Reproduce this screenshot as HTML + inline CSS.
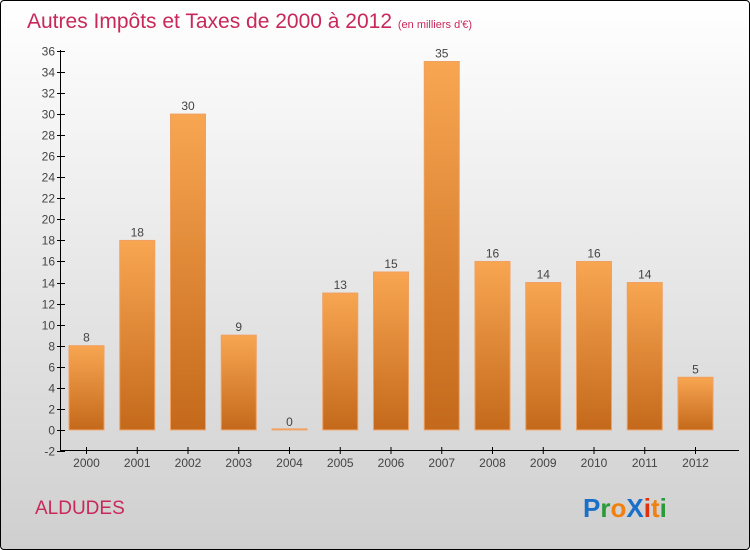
<!DOCTYPE html>
<html><head><meta charset="utf-8"><style>
body{margin:0;}
#wrap{position:relative;width:748px;height:548px;border:1px solid #000;border-radius:4px;background:linear-gradient(#ffffff,#cfcfcf);overflow:hidden;font-family:"Liberation Sans",sans-serif;}
</style></head><body>
<div id="wrap">
<svg id="svg" width="748" height="548" xmlns="http://www.w3.org/2000/svg">
<defs><linearGradient id="bg" x1="0" y1="0" x2="0" y2="1"><stop offset="0" stop-color="#f8a652"/><stop offset="1" stop-color="#c4691b"/></linearGradient></defs>
<text x="26" y="27" font-size="21" fill="#c8285a">Autres Impôts et Taxes de 2000 à 2012 <tspan font-size="11">(en milliers d'€)</tspan></text>
<text x="34" y="513" font-size="19" fill="#c8285a">ALDUDES</text>
<g font-size="26" font-weight="bold"><text x="582" y="516"><tspan fill="#1a6fc8">P</tspan><tspan fill="#2a9a3a">r</tspan><tspan fill="#f08010">o</tspan><tspan fill="#1a6fc8">X</tspan><tspan fill="#e03010">i</tspan><tspan fill="#f08010">t</tspan><tspan fill="#2a9a3a">i</tspan></text></g>
<g id="plot"></g>
</svg></div>
<script>
const years=["2000","2001","2002","2003","2004","2005","2006","2007","2008","2009","2010","2011","2012"];
const values=[8,18,30,9,0,13,15,35,16,14,16,14,5];
const ticks=[-2,0,2,4,6,8,10,12,14,16,18,20,22,24,26,28,30,32,34,36];
const ns="http://www.w3.org/2000/svg";
const g=document.getElementById('plot');
const y=v=>428.9-(v*400/38);
const xc=i=>85.5+i*50.75;
function mk(t,a){const e=document.createElementNS(ns,t);for(const k in a)e.setAttribute(k,a[k]);g.appendChild(e);return e;}
let ax=mk('line',{x1:59.5,y1:49,x2:59.5,y2:450,stroke:'#000'});


let bx=mk('line',{x1:59.5,y1:449.5,x2:738,y2:449.5,stroke:'#000'});


ticks.forEach(t=>{const yy=Math.round(y(t))+0.5;
mk('line',{x1:56,x2:64,y1:yy,y2:yy,stroke:'#000'});
const tx=mk('text',{x:54,y:yy+4,'font-size':12,'text-anchor':'end',fill:'#444'});tx.textContent=t;

});
years.forEach((yr,i)=>{const v=values[i];const x=xc(i);
mk('line',{x1:x,x2:x,y1:446,y2:453,stroke:'#000'});
const tl=mk('text',{x:x,y:466,'font-size':12,'text-anchor':'middle',fill:'#444'});tl.textContent=yr;


const top=y(v),h=Math.max(y(0)-top,1);
const r=mk('rect',{x:x-17.5,y:v>0?top:y(0)-1,width:35,height:h,fill:'url(#bg)',stroke:'#f0a060','stroke-width':1});


const vl=mk('text',{x:x,y:top-4,'font-size':12,'text-anchor':'middle',fill:'#444'});vl.textContent=v;

});
</script>
</body></html>
